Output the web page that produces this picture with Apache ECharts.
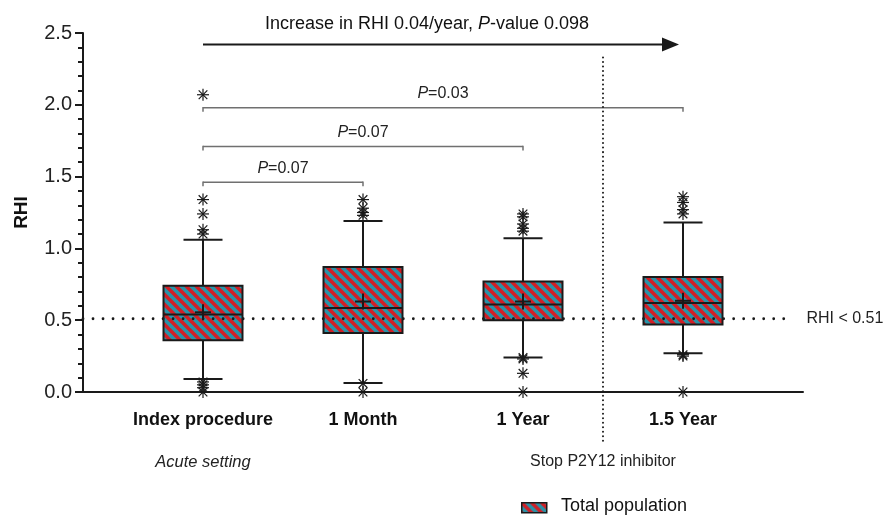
<!DOCTYPE html>
<html>
<head>
<meta charset="utf-8">
<title>RHI over time</title>
<script src="https://cdn.jsdelivr.net/npm/echarts@6/dist/echarts.min.js"></script>
<style>
  html, body { margin: 0; padding: 0; background: #fff; }
  #chart { width: 885px; height: 515px; }
</style>
</head>
<body>
<div id="chart"></div>
<script>
// timepoints (x positions 1..4)
const categories = ['Index procedure', '1 Month', '1 Year', '1.5 Year'];
const positions = [1, 2, 3, 4];

// box stats per timepoint
const whiskerLow = [0.09, 0.063, 0.24, 0.27];
const q1 = [0.36, 0.41, 0.50, 0.47];
const median = [0.54, 0.585, 0.61, 0.62];
const q3 = [0.74, 0.87, 0.77, 0.80];
const whiskerHigh = [1.06, 1.19, 1.07, 1.18];
const means = [0.555, 0.63, 0.63, 0.635];

// outliers per timepoint
const outliers = [
  [2.07, 1.34, 1.24, 1.13, 1.10, 0.07, 0.05, 0.03, 0.0],
  [1.34, 1.28, 1.25, 1.23, 0.06, 0.0],
  [1.24, 1.22, 1.17, 1.14, 1.12, 0.24, 0.23, 0.13, 0.0],
  [1.36, 1.32, 1.27, 1.24, 0.26, 0.25, 0.0]
];

const yTicks = [0, 0.5, 1.0, 1.5, 2.0, 2.5];
const cutoff = 0.51;

// comparisons: from, to, level, p
const brackets = [
  [1, 4, 1.98, '0.03'],
  [1, 3, 1.71, '0.07'],
  [1, 2, 1.46, '0.07']
];

const FONT = '"Liberation Sans", Arial, sans-serif';
const INK = '#1a1a1a';

// red / teal diagonal stripes
function makeStripes() {
  const s = 10;
  const c = document.createElement('canvas');
  c.width = s; c.height = s;
  const ctx = c.getContext('2d');
  ctx.fillStyle = '#2893a8';
  ctx.fillRect(0, 0, s, s);
  ctx.strokeStyle = '#d11f26';
  ctx.lineWidth = s / Math.SQRT2 / 2;
  for (let k = -1; k <= 1; k++) {
    ctx.beginPath();
    ctx.moveTo(k * s - 2, -2);
    ctx.lineTo(k * s + s + 2, s + 2);
    ctx.stroke();
  }
  return c;
}
const stripes = { image: makeStripes(), repeat: 'repeat' };

const boxData = positions.map((p, i) =>
  [p, whiskerLow[i], q1[i], median[i], q3[i], whiskerHigh[i], means[i]]);

const outlierData = [];
outliers.forEach((list, i) => list.forEach(v => outlierData.push([positions[i], v])));

const line = (a, b, w, color) => ({
  type: 'line',
  shape: { x1: a[0], y1: a[1], x2: b[0], y2: b[1] },
  style: { stroke: color || INK, lineWidth: w || 2 }
});

function renderBox(params, api) {
  const x = api.value(0);
  const lo = api.coord([x, api.value(1)]);
  const b1 = api.coord([x, api.value(2)]);
  const md = api.coord([x, api.value(3)]);
  const b3 = api.coord([x, api.value(4)]);
  const hi = api.coord([x, api.value(5)]);
  const mn = api.coord([x, api.value(6)]);
  const cx = lo[0], half = 39.5, cap = 19.5;
  return {
    type: 'group',
    children: [
      line([cx, b1[1]], [cx, lo[1]]),
      line([cx, b3[1]], [cx, hi[1]]),
      line([cx - cap, lo[1]], [cx + cap, lo[1]]),
      line([cx - cap, hi[1]], [cx + cap, hi[1]]),
      {
        type: 'rect',
        shape: { x: cx - half, y: b3[1], width: half * 2, height: b1[1] - b3[1] },
        style: { fill: stripes, stroke: INK, lineWidth: 2 }
      },
      line([cx - half, md[1]], [cx + half, md[1]]),
      line([cx - 8, mn[1]], [cx + 8, mn[1]]),
      line([cx, mn[1] - 8], [cx, mn[1] + 8])
    ]
  };
}

function renderStar(params, api) {
  const p = api.coord([api.value(0), api.value(1)]);
  const r = 6, d = r * 0.72;
  return {
    type: 'group',
    children: [
      line([p[0], p[1] - r], [p[0], p[1] + r], 1.2),
      line([p[0] - r, p[1]], [p[0] + r, p[1]], 1.2),
      line([p[0] - d, p[1] - d], [p[0] + d, p[1] + d], 1.2),
      line([p[0] - d, p[1] + d], [p[0] + d, p[1] - d], 1.2)
    ]
  };
}

function renderBracket(params, api) {
  const i = params.dataIndex;
  const a = api.coord([api.value(0), api.value(2)]);
  const b = api.coord([api.value(1), api.value(2)]);
  const gray = '#707070';
  return {
    type: 'group',
    children: [
      line([a[0], a[1]], [b[0], b[1]], 1.5, gray),
      line([a[0], a[1] - 0.75], [a[0], a[1] + 4], 1.5, gray),
      line([b[0], b[1] - 0.75], [b[0], b[1] + 4], 1.5, gray),
      {
        type: 'text',
        x: (a[0] + b[0]) / 2, y: a[1] - 6,
        style: {
          text: '{i|P}=' + brackets[i][3],
          align: 'center', verticalAlign: 'bottom',
          font: '16px ' + FONT, fill: '#222',
          rich: { i: { fontStyle: 'italic', fontSize: 16, fontFamily: FONT, fill: '#222' } }
        }
      }
    ]
  };
}

function renderNotes(params, api) {
  const y0 = api.coord([1, 0])[1];
  const ref0 = api.coord([0.25, cutoff]);
  const ref1 = api.coord([4.69, cutoff]);
  const arrowA = api.coord([1, 2.42]);
  const arrowB = api.coord([3.975, 2.42]);
  const vTop = api.coord([3.5, 2.33]);
  const vx = vTop[0];
  return {
    type: 'group',
    children: [
      // cutoff line
      {
        type: 'line',
        shape: { x1: ref0[0], y1: ref0[1], x2: ref1[0], y2: ref1[1] },
        style: { stroke: INK, lineWidth: 2.8, lineDash: [0.01, 10], lineCap: 'round' }
      },
      {
        type: 'text', x: ref1[0] + 13, y: ref1[1],
        style: { text: 'RHI < 0.51', font: '16px ' + FONT, fill: '#222', verticalAlign: 'middle' }
      },
      // divider before 1.5 year
      {
        type: 'line',
        shape: { x1: vx, y1: vTop[1], x2: vx, y2: y0 + 50 },
        style: { stroke: INK, lineWidth: 2, lineDash: [0.01, 4.5], lineCap: 'round' }
      },
      // trend arrow
      line([arrowA[0], arrowA[1]], [arrowB[0] - 14, arrowB[1]], 2.2),
      {
        type: 'polygon',
        shape: { points: [[arrowB[0] - 17, arrowB[1] - 7], [arrowB[0], arrowB[1]], [arrowB[0] - 17, arrowB[1] + 7]] },
        style: { fill: INK }
      },
      {
        type: 'text', x: api.coord([2.4, 0])[0], y: arrowA[1] - 20,
        style: {
          text: 'Increase in RHI 0.04/year, {i|P}-value 0.098',
          align: 'center', verticalAlign: 'middle',
          font: '18px ' + FONT, fill: '#111',
          rich: { i: { fontStyle: 'italic', fontSize: 18, fontFamily: FONT, fill: '#111' } }
        }
      },
      {
        type: 'text', x: api.coord([1, 0])[0], y: y0 + 70,
        style: { text: 'Acute setting', align: 'center', verticalAlign: 'middle',
          font: 'italic 16.5px ' + FONT, fill: '#222' }
      },
      {
        type: 'text', x: vx, y: y0 + 70,
        style: { text: 'Stop P2Y12 inhibitor', align: 'center', verticalAlign: 'middle',
          font: '16px ' + FONT, fill: '#222' }
      }
    ]
  };
}

const chart = echarts.init(document.getElementById('chart'), null, { renderer: 'canvas' });
chart.setOption({
  backgroundColor: '#fff',
  animation: false,
  textStyle: { fontFamily: FONT },
  grid: { left: 83, right: 82, top: 33, bottom: 123, containLabel: false },
  xAxis: {
    type: 'value', min: 0.25, max: 4.75,
    axisLine: { show: true, onZero: false, lineStyle: { color: INK, width: 2 } },
    axisTick: { show: false },
    splitLine: { show: false },
    axisLabel: {
      customValues: positions,
      formatter: v => categories[positions.indexOf(v)],
      fontWeight: 'bold', fontSize: 18, color: '#111', margin: 19, fontFamily: FONT
    }
  },
  yAxis: {
    type: 'value', min: yTicks[0], max: yTicks[yTicks.length - 1], interval: 0.5,
    name: 'RHI', nameLocation: 'middle', nameGap: 52,
    nameTextStyle: { fontWeight: 'bold', fontSize: 19, color: '#111', fontFamily: FONT },
    axisLine: { show: true, lineStyle: { color: INK, width: 2 } },
    axisTick: { show: true, length: 8, lineStyle: { color: INK, width: 2 } },
    minorTick: { show: true, splitNumber: 5, length: 5, lineStyle: { color: INK, width: 2 } },
    splitLine: { show: false },
    minorSplitLine: { show: false },
    axisLabel: { fontSize: 20, color: '#222', margin: 11, fontFamily: FONT, formatter: v => v.toFixed(1) }
  },
  graphic: [
    {
      type: 'rect', left: 521, top: 502,
      shape: { width: 25, height: 10 },
      style: { fill: stripes, stroke: INK, lineWidth: 1.5 }
    },
    {
      type: 'text', left: 561, top: 497,
      style: { text: 'Total population', font: '18px ' + FONT, fill: '#111' }
    }
  ],
  series: [
    { type: 'custom', name: 'boxes', renderItem: renderBox, data: boxData, z: 2 },
    { type: 'custom', name: 'outliers', renderItem: renderStar, data: outlierData, z: 4, clip: false },
    { type: 'custom', name: 'brackets', renderItem: renderBracket,
      data: brackets.map(b => [b[0], b[1], b[2]]), z: 3, clip: false },
    { type: 'custom', name: 'notes', renderItem: renderNotes, data: [[1, 0]], z: 3, clip: false }
  ]
});
</script>
</body>
</html>
